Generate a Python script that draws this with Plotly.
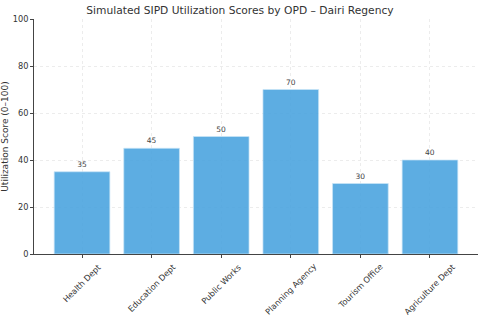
import plotly.graph_objects as go

departments = ["Health Dept", "Education Dept", "Public Works", "Planning Agency", "Tourism Office", "Agriculture Dept"]
scores = [35, 45, 50, 70, 30, 40]
y_ticks = [0, 20, 40, 60, 80, 100]

positions = list(range(len(departments)))

fig = go.Figure()
fig.add_trace(go.Bar(
    x=positions, y=scores, width=0.8,
    marker=dict(color="rgba(75,164,223,0.9)", line=dict(width=0.8, color="rgba(200,228,247,0.9)")),
    text=[str(v) for v in scores], textposition="outside",
    textfont=dict(size=7.5, color="#444444", family="DejaVu Sans"),
    cliponaxis=False,
))
for p, name in zip(positions, departments):
    fig.add_annotation(
        x=p, xref="x", y=0, yref="paper", yshift=-5,
        text=name, textangle=-45, showarrow=False,
        xanchor="center", yanchor="top",
        font=dict(size=8.2, color="#333333", family="DejaVu Sans"),
    )
fig.update_layout(
    width=480, height=318,
    margin=dict(l=34, r=2, t=19, b=64),
    paper_bgcolor="white", plot_bgcolor="white",
    font=dict(family="DejaVu Sans", color="#333333", size=8),
    title=dict(text="Simulated SIPD Utilization Scores by OPD – Dairi Regency",
               x=0.5, xanchor="center", y=0.967, yanchor="middle",
               font=dict(size=10.7, color="#333333"), automargin=False),
    showlegend=False, bargap=0.2,
)
fig.update_xaxes(
    range=[-0.69, 5.69], tickmode="array", tickvals=positions,
    showticklabels=False, automargin=False,
    showgrid=True, gridcolor="#ececec", griddash="dot", gridwidth=1,
    showline=True, linecolor="#444444", linewidth=1,
    ticks="outside", ticklen=3, tickcolor="#444444",
)
fig.update_yaxes(
    range=[0, 100], tickmode="array", tickvals=y_ticks, automargin=False,
    showgrid=True, gridcolor="#ececec", griddash="dot", gridwidth=1,
    showline=True, linecolor="#444444", linewidth=1,
    ticks="outside", ticklen=3, tickcolor="#444444",
    tickfont=dict(size=8.2, color="#333333"),
    title=dict(text="Utilization Score (0–100)", font=dict(size=9, color="#333333"), standoff=3),
    zeroline=False,
)
fig.write_html("out.html", config={"displayModeBar": False},
               post_script="document.body.style.margin='0';")
